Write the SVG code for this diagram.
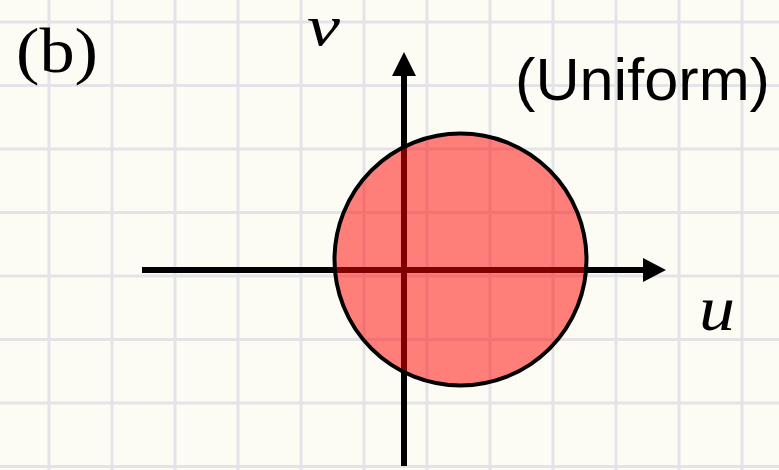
<svg xmlns="http://www.w3.org/2000/svg" width="779" height="470" viewBox="0 0 779 470">
<defs>
<style>
.grid line{stroke:#e4e4e8;stroke-width:3}
.axis{stroke:#000;stroke-width:6;fill:none}
.head{fill:#000}
.lbl{font-family:"Liberation Serif",serif;fill:#000}
.math{font-family:"Liberation Serif",serif;font-style:italic;fill:#000}
.sans{font-family:"Liberation Sans",sans-serif;fill:#000}
</style>
</defs>
<rect width="779" height="470" fill="#fcfcf5"/>
<g class="grid" id="grid">
<line x1="49" y1="0" x2="49" y2="470"/>
<line x1="112" y1="0" x2="112" y2="470"/>
<line x1="175" y1="0" x2="175" y2="470"/>
<line x1="238" y1="0" x2="238" y2="470"/>
<line x1="301" y1="0" x2="301" y2="470"/>
<line x1="364" y1="0" x2="364" y2="470"/>
<line x1="427" y1="0" x2="427" y2="470"/>
<line x1="490" y1="0" x2="490" y2="470"/>
<line x1="553" y1="0" x2="553" y2="470"/>
<line x1="616" y1="0" x2="616" y2="470"/>
<line x1="679" y1="0" x2="679" y2="470"/>
<line x1="742" y1="0" x2="742" y2="470"/>
<line x1="0" y1="22" x2="779" y2="22"/>
<line x1="0" y1="85.5" x2="779" y2="85.5"/>
<line x1="0" y1="149" x2="779" y2="149"/>
<line x1="0" y1="212.5" x2="779" y2="212.5"/>
<line x1="0" y1="276" x2="779" y2="276"/>
<line x1="0" y1="339.5" x2="779" y2="339.5"/>
<line x1="0" y1="403" x2="779" y2="403"/>
<line x1="0" y1="466.5" x2="779" y2="466.5"/>
</g>
<g id="connectors">
<line class="axis" x1="142" y1="270" x2="645" y2="270"/>
<polygon class="head" points="643,258 666,270 643,282"/>
<line class="axis" x1="404" y1="466" x2="404" y2="73"/>
<polygon class="head" points="392,76 404,52 416,76"/>
</g>
<g id="circle">
<circle cx="460.5" cy="259.5" r="126" fill="#ff0000" fill-opacity="0.5" stroke="#000" stroke-width="4"/>
</g>
<g id="labels">
<text class="lbl" x="16" y="72" font-size="64" textLength="82" lengthAdjust="spacingAndGlyphs">(b)</text>
<text class="sans" x="515" y="100" font-size="60" textLength="255" lengthAdjust="spacingAndGlyphs">(Uniform)</text>
<text class="math" x="307" y="45" font-size="58" textLength="33" lengthAdjust="spacingAndGlyphs">v</text>
<text class="math" x="699" y="330" font-size="64" textLength="36" lengthAdjust="spacingAndGlyphs">u</text>
</g>
</svg>
